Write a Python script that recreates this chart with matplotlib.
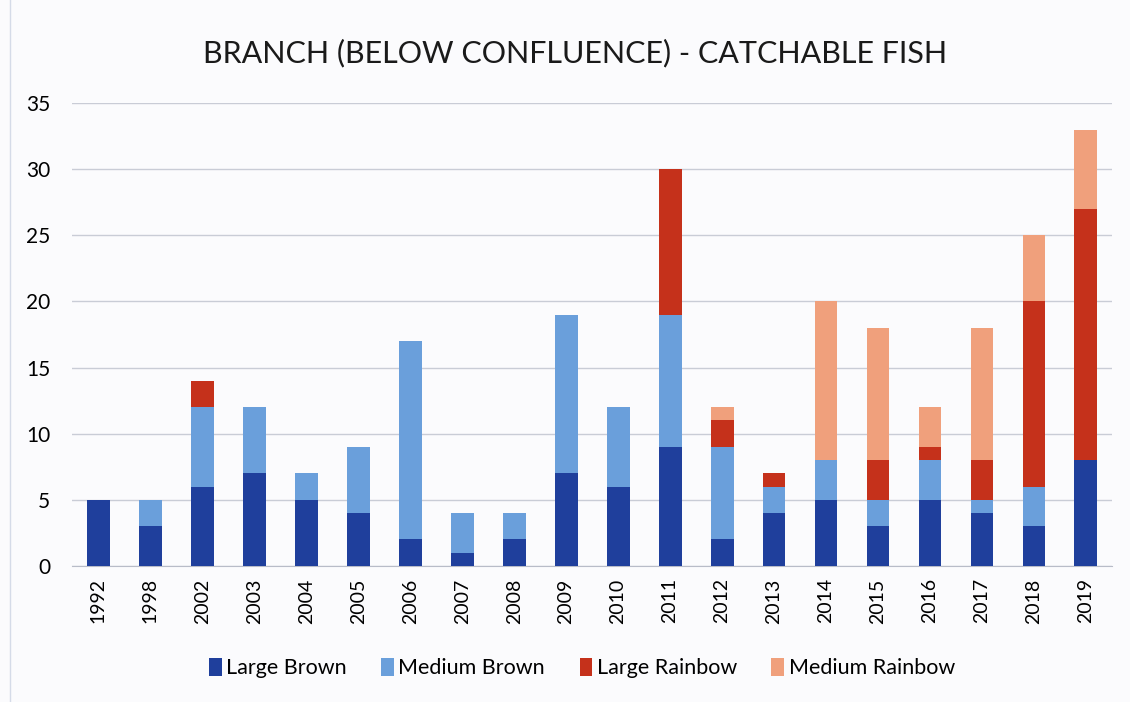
import numpy as np
from matplotlib import pyplot as plt

years = ["1992", "1998", "2002", "2003", "2004", "2005", "2006", "2007", "2008", "2009",
         "2010", "2011", "2012", "2013", "2014", "2015", "2016", "2017", "2018", "2019"]
large_brown = [5, 3, 6, 7, 5, 4, 2, 1, 2, 7, 6, 9, 2, 4, 5, 3, 5, 4, 3, 8]
medium_brown = [0, 2, 6, 5, 2, 5, 15, 3, 2, 12, 6, 10, 7, 2, 3, 2, 3, 1, 3, 0]
large_rainbow = [0, 0, 2, 0, 0, 0, 0, 0, 0, 0, 0, 11, 2, 1, 0, 3, 1, 3, 14, 19]
medium_rainbow = [0, 0, 0, 0, 0, 0, 0, 0, 0, 0, 0, 0, 1, 0, 12, 10, 3, 10, 5, 6]

series = [
    ("Large Brown", large_brown, "#1f3f9c"),
    ("Medium Brown", medium_brown, "#6a9fdb"),
    ("Large Rainbow", large_rainbow, "#c5311b"),
    ("Medium Rainbow", medium_rainbow, "#f0a07c"),
]

plt.rcParams["font.family"] = ["Lato", "DejaVu Sans"]

fig = plt.figure(figsize=(11.3, 7.02), dpi=100)
fig.patch.set_facecolor("#fbfbfd")
ax = fig.add_axes([0.064, 0.194, 0.92, 0.659])
ax.set_facecolor("#fbfbfd")

x = np.arange(len(years))
bottom = np.zeros(len(years))
for label, vals, color in series:
    vals = np.array(vals, dtype=float)
    ax.bar(x, vals, 0.44, bottom=bottom, color=color, label=label, zorder=3)
    bottom += vals

ax.set_ylim(0, 35)
ax.set_xlim(-0.5, len(years) - 0.5)
ax.set_yticks(range(0, 36, 5))
ax.yaxis.grid(True, color="#c9ccd6", linewidth=1.0, zorder=0)
ax.set_xticks(x)
ax.set_xticklabels(years, rotation=90, fontsize=14)
ax.tick_params(axis="y", labelsize=15, length=0, pad=16)
ax.tick_params(axis="x", length=0, pad=9)
for side in ["top", "right", "left"]:
    ax.spines[side].set_visible(False)
ax.spines["bottom"].set_color("#b8bcc8")

# faint page edge on the left of the scan
fig.add_artist(plt.Line2D([0.009, 0.009], [0, 1], color="#d5dbe8", linewidth=1))

fig.text(0.509, 0.925, "BRANCH (BELOW CONFLUENCE) - CATCHABLE FISH",
         ha="center", va="center", fontsize=22, color="#1a1a1a")

fig.legend(loc="center", bbox_to_anchor=(0.515, 0.048), ncol=4, frameon=False,
           fontsize=15.5, handlelength=0.6, handleheight=0.9, handletextpad=0.2,
           columnspacing=1.6)

fig.savefig("out.png", dpi=100, facecolor=fig.get_facecolor())
